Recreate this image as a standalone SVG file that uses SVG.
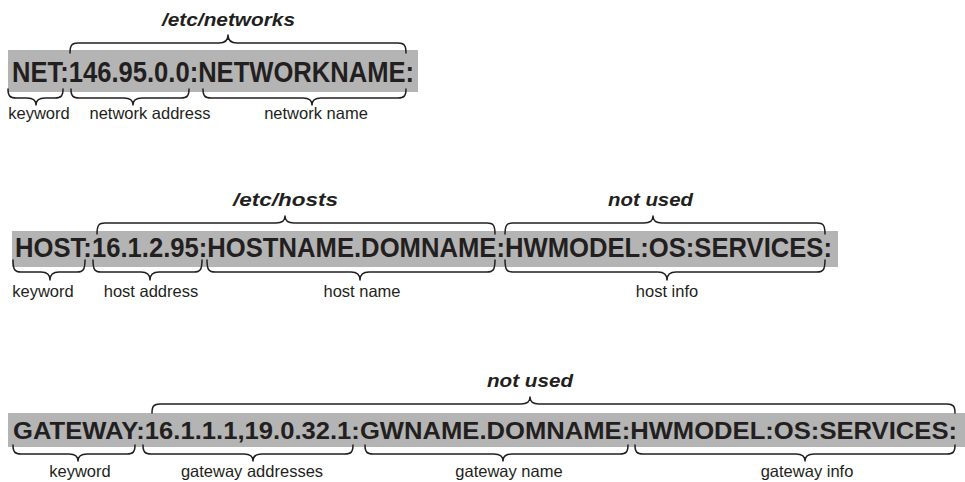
<svg xmlns="http://www.w3.org/2000/svg" width="965" height="482" viewBox="0 0 965 482">
<style>
.band{fill:#b4b4b4}
.code{font-family:"Liberation Sans",Arial,sans-serif;font-weight:bold;fill:#231f20}
.title{font-family:"Liberation Sans",Arial,sans-serif;font-weight:bold;font-style:italic;font-size:18px;fill:#231f20}
.lbl{font-family:"Liberation Sans",Arial,sans-serif;font-size:16.5px;fill:#231f20;text-anchor:middle}
.brace{fill:none;stroke:#231f20;stroke-width:1.5;stroke-linejoin:round;stroke-linecap:round}
</style>
<rect width="965" height="482" fill="#fff"/>
<g id="net-row">
<rect class="band" x="8" y="50" width="410" height="42"/>
<text class="code" x="12" y="82" font-size="29" textLength="402" lengthAdjust="spacingAndGlyphs">NET:146.95.0.0:NETWORKNAME:</text>
<text class="title" x="162" y="26" textLength="133" lengthAdjust="spacingAndGlyphs">/etc/networks</text>
<text class="lbl" x="39" y="119">keyword</text>
<text class="lbl" x="150" y="119">network address</text>
<text class="lbl" x="316" y="119">network name</text>
</g>
<g id="host-row">
<rect class="band" x="12" y="231" width="826" height="36"/>
<text class="code" x="15" y="257" font-size="28" textLength="817" lengthAdjust="spacingAndGlyphs">HOST:16.1.2.95:HOSTNAME.DOMNAME:HWMODEL:OS:SERVICES:</text>
<text class="title" x="233" y="206" textLength="105" lengthAdjust="spacingAndGlyphs">/etc/hosts</text>
<text class="title" x="608" y="206" textLength="85" lengthAdjust="spacingAndGlyphs">not used</text>
<text class="lbl" x="43" y="297">keyword</text>
<text class="lbl" x="151" y="297">host address</text>
<text class="lbl" x="362" y="297">host name</text>
<text class="lbl" x="667" y="297">host info</text>
</g>
<g id="gateway-row">
<rect class="band" x="8" y="413" width="957" height="34"/>
<text class="code" x="13" y="439" font-size="24.5" textLength="944" lengthAdjust="spacingAndGlyphs">GATEWAY:16.1.1.1,19.0.32.1:GWNAME.DOMNAME:HWMODEL:OS:SERVICES:</text>
<text class="title" x="487" y="387" textLength="86" lengthAdjust="spacingAndGlyphs">not used</text>
<text class="lbl" x="80" y="477">keyword</text>
<text class="lbl" x="252" y="477">gateway addresses</text>
<text class="lbl" x="509" y="477">gateway name</text>
<text class="lbl" x="807" y="477">gateway info</text>
</g>
<g id="braces">
<path class="brace" d="M70 53 C70 45 72 43 78 43 L219 43 C225 43 228 41 228 35 C228 41 231 43 237 43 L398 43 C404 43 406 45 406 53"/>
<path class="brace" d="M8 89 C8 96 10 98 16 98 L27 98 C33 98 36 100 36 105 C36 100 39 98 45 98 L55 98 C61 98 63 96 63 89"/>
<path class="brace" d="M71 89 C71 96 73 98 79 98 L124 98 C130 98 133 100 133 105 C133 100 136 98 142 98 L181 98 C187 98 189 96 189 89"/>
<path class="brace" d="M203 89 C203 96 205 98 211 98 L303 98 C309 98 312 100 312 105 C312 100 315 98 321 98 L398 98 C404 98 406 96 406 89"/>
<path class="brace" d="M97 234 C97 225 99 223 105 223 L276 223 C282 223 285 221 285 216 C285 221 288 223 294 223 L487 223 C493 223 495 225 495 234"/>
<path class="brace" d="M505 234 C505 225 507 223 513 223 L644 223 C650 223 653 221 653 216 C653 221 656 223 662 223 L817 223 C823 223 825 225 825 234"/>
<path class="brace" d="M13 260 C13 270 15 272 21 272 L41 272 C47 272 50 274 50 280 C50 274 53 272 59 272 L77 272 C83 272 85 270 85 260"/>
<path class="brace" d="M93 260 C93 270 95 272 101 272 L141 272 C147 272 150 274 150 280 C150 274 153 272 159 272 L194 272 C200 272 202 270 202 260"/>
<path class="brace" d="M207 260 C207 270 209 272 215 272 L351 272 C357 272 360 274 360 280 C360 274 363 272 369 272 L487 272 C493 272 495 270 495 260"/>
<path class="brace" d="M505 260 C505 270 507 272 513 272 L658 272 C664 272 667 274 667 280 C667 274 670 272 676 272 L817 272 C823 272 825 270 825 260"/>
<path class="brace" d="M152 413 C152 406 154 404 160 404 L521 404 C527 404 530 402 530 397 C530 402 533 404 539 404 L947 404 C953 404 955 406 955 413"/>
<path class="brace" d="M13 445 C13 452 15 454 21 454 L69 454 C75 454 78 456 78 461 C78 456 81 454 87 454 L127 454 C133 454 135 452 135 445"/>
<path class="brace" d="M143 445 C143 452 145 454 151 454 L244 454 C250 454 253 456 253 461 C253 456 256 454 262 454 L345 454 C351 454 353 452 353 445"/>
<path class="brace" d="M365 445 C365 452 367 454 373 454 L494 454 C500 454 503 456 503 461 C503 456 506 454 512 454 L620 454 C626 454 628 452 628 445"/>
<path class="brace" d="M635 445 C635 452 637 454 643 454 L796 454 C802 454 805 456 805 461 C805 456 808 454 814 454 L947 454 C953 454 955 452 955 445"/>
</g>
</svg>
